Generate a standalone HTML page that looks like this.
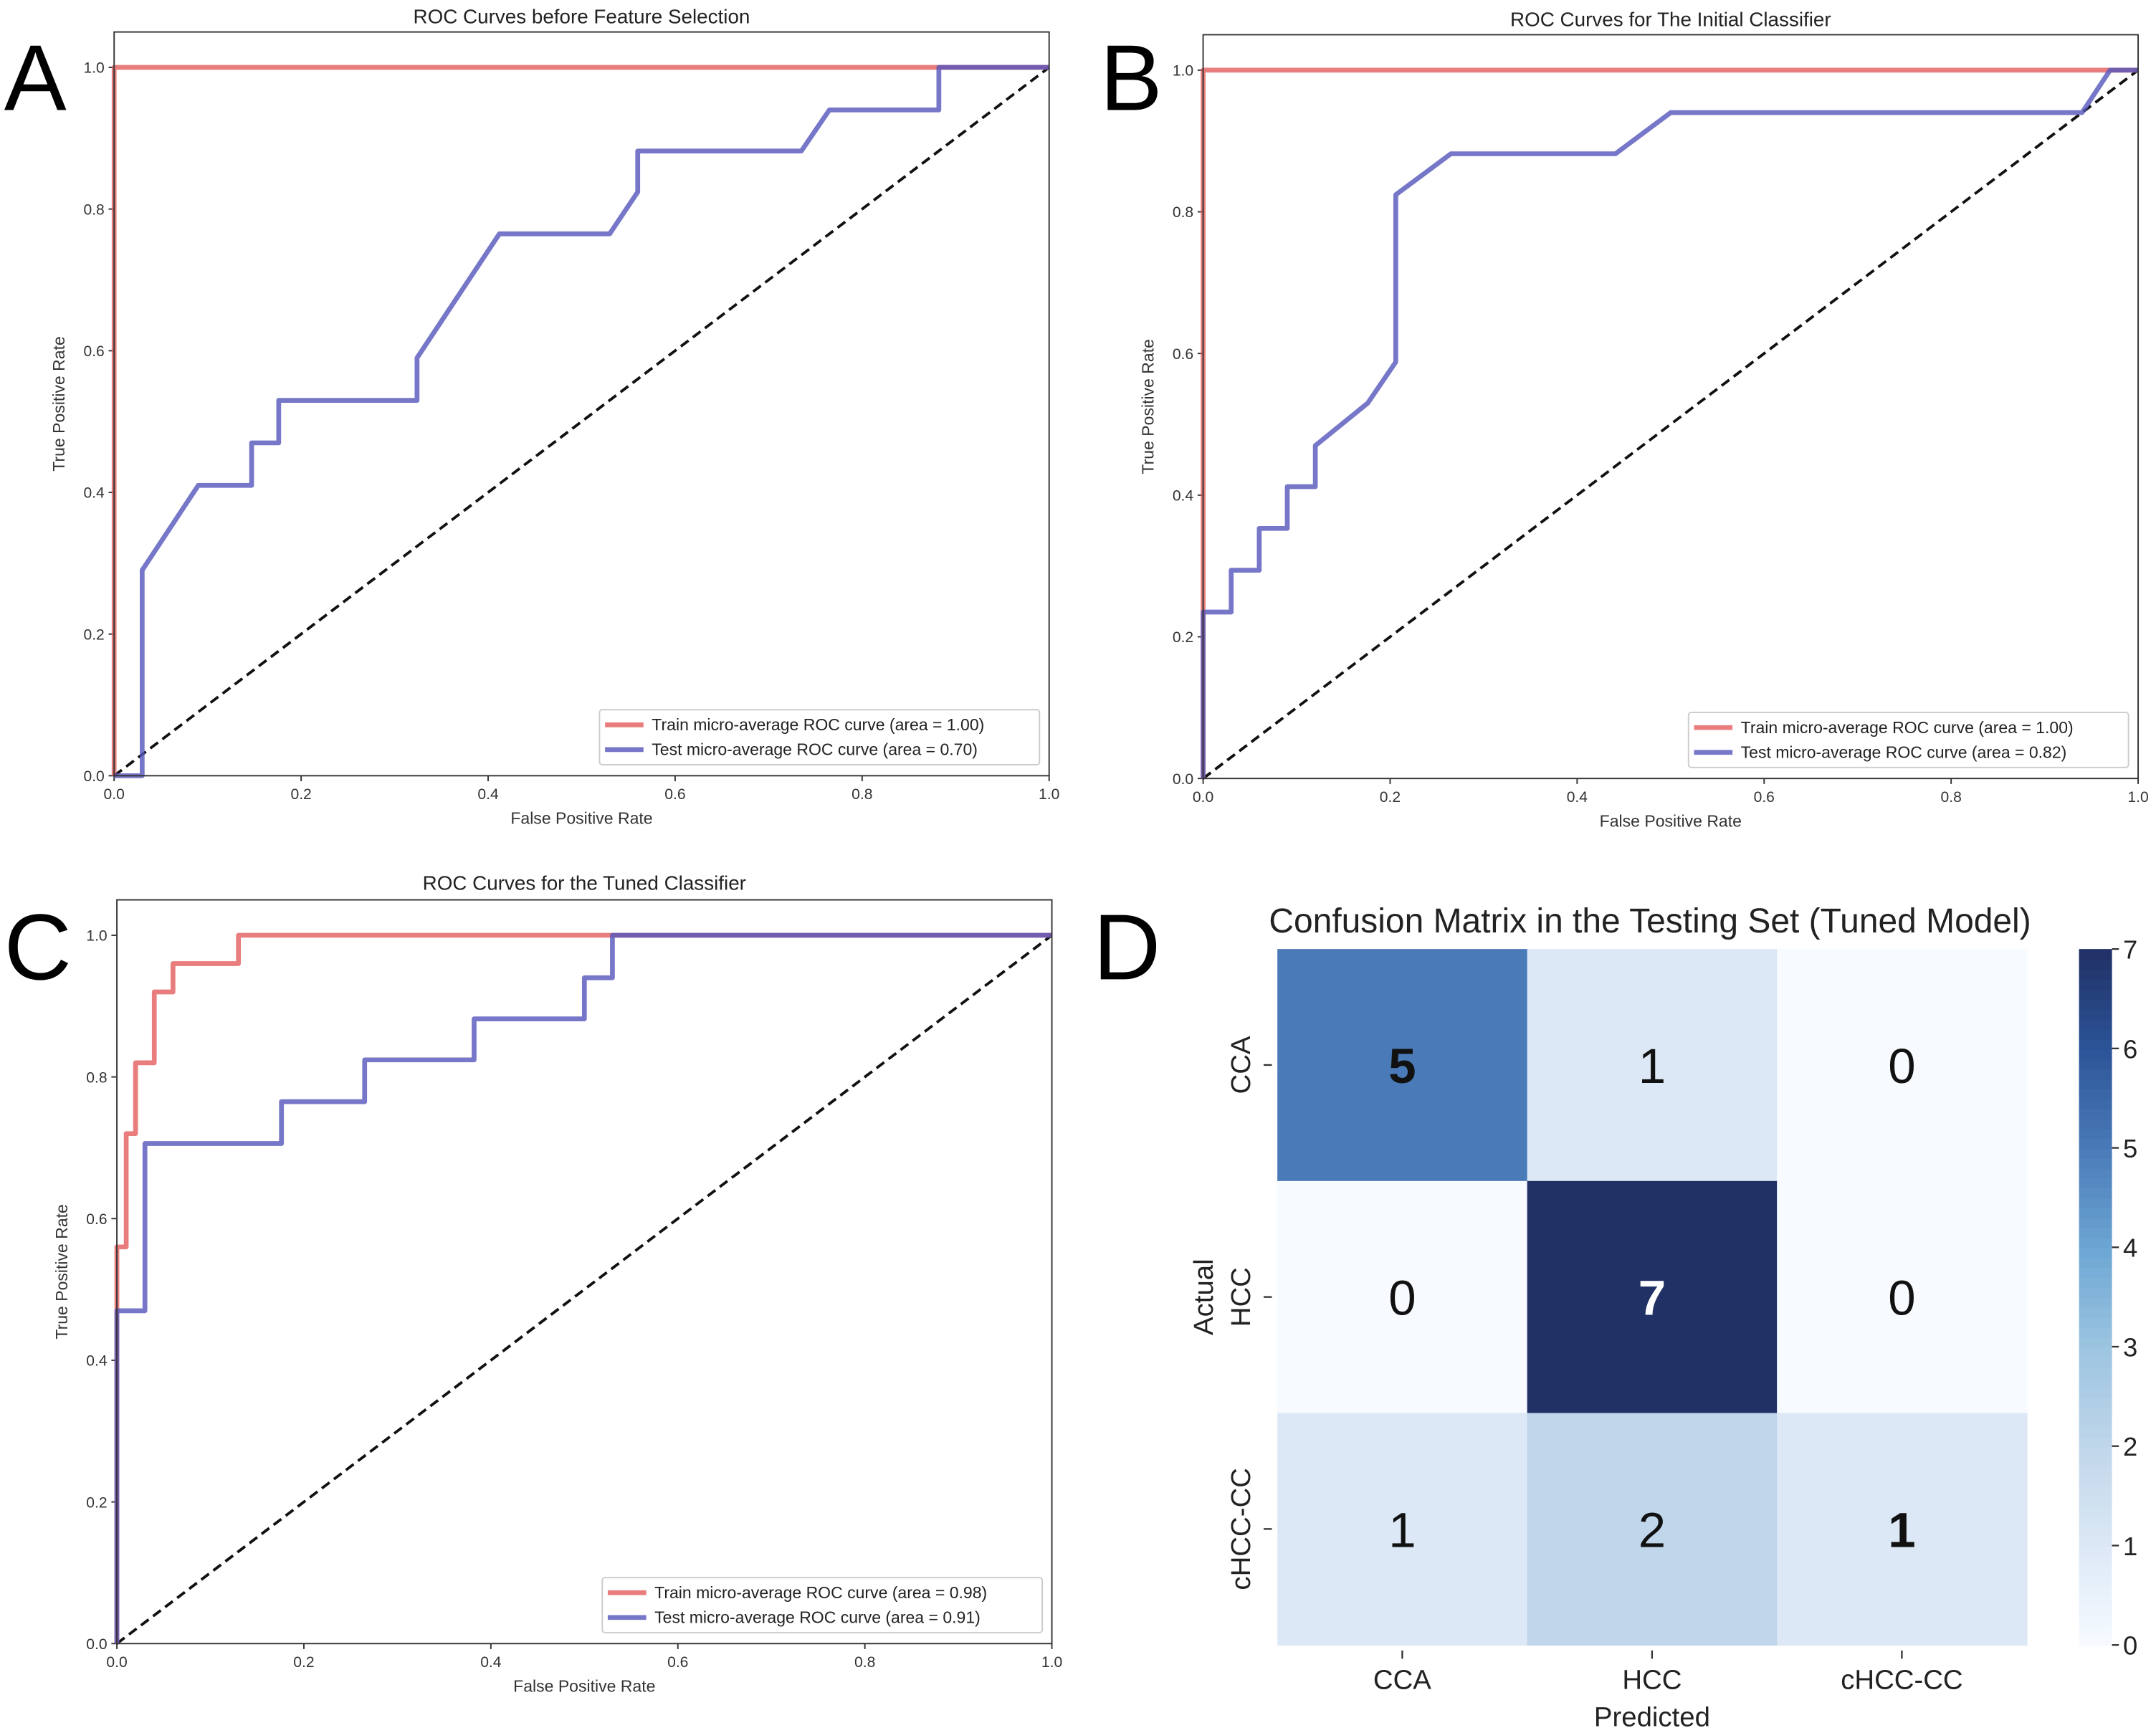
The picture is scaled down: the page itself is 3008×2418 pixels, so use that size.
<!DOCTYPE html>
<html><head><meta charset="utf-8"><style>
html,body{margin:0;padding:0;background:#fff;}
svg{display:block;font-family:"Liberation Sans","DejaVu Sans",sans-serif;}
</style></head><body>
<svg id="fig" width="3008" height="2418" viewBox="0 0 1568 1260" preserveAspectRatio="none" xmlns="http://www.w3.org/2000/svg"></svg>
<script>
// ---- data ----
const xTicks = [0, 0.2, 0.4, 0.6, 0.8, 1.0];
const yTicks = [0, 0.2, 0.4, 0.6, 0.8, 1.0];
const trainA_x = [0, 0, 1];
const trainA_y = [0, 1, 1];
const testA_x = [0, 0.03, 0.03, 0.09, 0.147, 0.147, 0.176, 0.176, 0.324, 0.324, 0.412, 0.53, 0.56, 0.56, 0.735, 0.765, 0.882, 0.882, 1];
const testA_y = [0, 0, 0.29, 0.41, 0.41, 0.47, 0.47, 0.53, 0.53, 0.59, 0.765, 0.765, 0.824, 0.882, 0.882, 0.94, 0.94, 1, 1];
const trainB_x = [0, 0, 1];
const trainB_y = [0, 1, 1];
const testB_x = [0, 0, 0.03, 0.03, 0.06, 0.06, 0.09, 0.09, 0.12, 0.12, 0.176, 0.206, 0.206, 0.265, 0.441, 0.5, 0.94, 0.97, 1];
const testB_y = [0, 0.235, 0.235, 0.294, 0.294, 0.353, 0.353, 0.412, 0.412, 0.47, 0.53, 0.588, 0.824, 0.882, 0.882, 0.94, 0.94, 1, 1];
const trainC_x = [0, 0, 0.01, 0.01, 0.02, 0.02, 0.04, 0.04, 0.06, 0.06, 0.13, 0.13, 1];
const trainC_y = [0, 0.56, 0.56, 0.72, 0.72, 0.82, 0.82, 0.92, 0.92, 0.96, 0.96, 1, 1];
const testC_x = [0, 0, 0.03, 0.03, 0.176, 0.176, 0.265, 0.265, 0.382, 0.382, 0.5, 0.5, 0.53, 0.53, 1];
const testC_y = [0, 0.47, 0.47, 0.706, 0.706, 0.765, 0.765, 0.824, 0.824, 0.882, 0.882, 0.94, 0.94, 1, 1];
const cmLabels = ["CCA", "HCC", "cHCC-CC"];
const cmValues = [[5,1,0],[0,7,0],[1,2,1]];
const cbTicks = [0,1,2,3,4,5,6,7];

const svg = document.getElementById('fig');
const NS = 'http://www.w3.org/2000/svg';
function el(tag, attrs, text){
  const e = document.createElementNS(NS, tag);
  for (const k in attrs) e.setAttribute(k, attrs[k]);
  if (text !== undefined) e.textContent = text;
  svg.appendChild(e);
  return e;
}

function rocPanel(p){
  const sx = v => p.x0 + v*(p.x1-p.x0);
  const sy = v => p.y0 - v*(p.y0-p.y1);
  const top = sy(1.05);
  let t = el('text',{x:(p.x0+p.x1)/2,y:p.titleY,'font-size':14.5,'text-anchor':'middle',fill:'#222'},p.title);
  
  
  let L = el('text',{x:p.letterX,y:p.letterY,'font-size':68,fill:'#000'},p.letter);
  
  
  // ticks
  xTicks.forEach(v=>{
    el('line',{x1:sx(v),x2:sx(v),y1:p.y0,y2:p.y0+4,stroke:'#333','stroke-width':1});
    const tx = el('text',{x:sx(v),y:p.y0+17,'font-size':11,'text-anchor':'middle',fill:'#333'},v.toFixed(1));
    
    
  });
  yTicks.forEach(v=>{
    el('line',{x1:p.x0-4,x2:p.x0,y1:sy(v),y2:sy(v),stroke:'#333','stroke-width':1});
    const ty = el('text',{x:p.x0-7,y:sy(v)+4,'font-size':11,'text-anchor':'end',fill:'#333'},v.toFixed(1));
    
    
  });
  let xl = el('text',{x:(p.x0+p.x1)/2,y:p.y0+35,'font-size':12,'text-anchor':'middle',fill:'#333'},'False Positive Rate');
  
  
  const my = (p.y0+top)/2;
  let yl = el('text',{x:p.x0-36,y:my,'font-size':12,'text-anchor':'middle',fill:'#333',transform:`rotate(-90 ${p.x0-36} ${my})`},'True Positive Rate');
  
  
  // diagonal
  let d = el('line',{x1:sx(0),y1:sy(0),x2:sx(1),y2:sy(1),stroke:'#111','stroke-width':2,'stroke-dasharray':'7,4'});
  
  
  const pts = (xs,ys)=>xs.map((x,i)=>sx(x).toFixed(1)+','+sy(ys[i]).toFixed(1)).join(' ');
  let tr = el('polyline',{points:pts(p.trX,p.trY),fill:'none',stroke:'#e35d5d','stroke-opacity':0.8,'stroke-width':3.5,'stroke-linejoin':'round'});
  
  
  let te = el('polyline',{points:pts(p.teX,p.teY),fill:'none',stroke:'#5555bb','stroke-opacity':0.8,'stroke-width':3.5,'stroke-linejoin':'round'});
  
  
  // frame
  let fr = el('rect',{x:p.x0,y:top,width:p.x1-p.x0,height:p.y0-top,fill:'none',stroke:'#333','stroke-width':1});
  
  
  // legend
  const lx = p.x1-327, ly = p.y0-48;
  let lg = el('rect',{x:lx,y:ly,width:320,height:40,fill:'#fff',stroke:'#ccc','stroke-width':1,rx:2});
  
  
  el('line',{x1:lx+4,x2:lx+32,y1:ly+11,y2:ly+11,stroke:'#e35d5d','stroke-opacity':0.8,'stroke-width':3.5});
  let l1 = el('text',{x:lx+38,y:ly+15,'font-size':12,fill:'#222'},'Train micro-average ROC curve (area = '+p.trArea+')');
  
  
  el('line',{x1:lx+4,x2:lx+32,y1:ly+29,y2:ly+29,stroke:'#5555bb','stroke-opacity':0.8,'stroke-width':3.5});
  let l2 = el('text',{x:lx+38,y:ly+33,'font-size':12,fill:'#222'},'Test micro-average ROC curve (area = '+p.teArea+')');
  
  
}

rocPanel({id:'panel-a',letter:'A',letterX:3,letterY:80,title:'ROC Curves before Feature Selection',titleY:17,x0:83,x1:763,y0:564,y1:49,trX:trainA_x,trY:trainA_y,teX:testA_x,teY:testA_y,trArea:'1.00',teArea:'0.70'});
rocPanel({id:'panel-b',letter:'B',letterX:800,letterY:80,title:'ROC Curves for The Initial Classifier',titleY:19,x0:875,x1:1555,y0:566,y1:51,trX:trainB_x,trY:trainB_y,teX:testB_x,teY:testB_y,trArea:'1.00',teArea:'0.82'});
rocPanel({id:'panel-c',letter:'C',letterX:3,letterY:712,title:'ROC Curves for the Tuned Classifier',titleY:647,x0:85,x1:765,y0:1195,y1:680,trX:trainC_x,trY:trainC_y,teX:testC_x,teY:testC_y,trArea:'0.98',teArea:'0.91'});

// ---- confusion matrix ----
const stops = [[0,[247,251,255]],[1,[220,232,245]],[2,[192,214,234]],[3,[156,196,225]],[4,[108,166,211]],[5,[74,122,184]],[6,[44,84,152]],[7,[33,48,101]]];
function cmap(v){
  for(let i=0;i<stops.length-1;i++){
    const [a,ca]=stops[i],[b,cb]=stops[i+1];
    if(v<=b){const t=(v-a)/(b-a);return 'rgb('+ca.map((c,j)=>Math.round(c+(cb[j]-c)*t)).join(',')+')';}
  }
  return 'rgb(33,48,101)';
}
const hx0=929, hx1=1474, hy0=690, hy1=1196;
const cw=(hx1-hx0)/3, ch=(hy1-hy0)/3;
let dl = el('text',{x:795,y:712,'font-size':68,fill:'#000'},'D');


let dt = el('text',{x:1200,y:678,'font-size':25,'text-anchor':'middle',fill:'#222'},'Confusion Matrix in the Testing Set (Tuned Model)');


cmValues.forEach((row,r)=>row.forEach((v,c)=>{
  const cell = el('rect',{x:hx0+c*cw,y:hy0+r*ch,width:cw+0.5,height:ch+0.5,fill:cmap(v)});
  
  
  const tx = el('text',{x:hx0+(c+0.5)*cw,y:hy0+(r+0.5)*ch+13,'font-size':36,'text-anchor':'middle',fill:v>=6?'#fff':'#111','font-weight':(r===c)?'bold':'normal'},String(v));
  
  
}));
cmLabels.forEach((lab,i)=>{
  const cx = hx0+(i+0.5)*cw;
  el('line',{x1:cx,x2:cx,y1:hy1+4,y2:hy1+10,stroke:'#333','stroke-width':1.2});
  const t = el('text',{x:cx,y:hy1+32,'font-size':20,'text-anchor':'middle',fill:'#222'},lab);
  
  
  const cy = hy0+(i+0.5)*ch;
  el('line',{x1:hx0-10,x2:hx0-4,y1:cy,y2:cy,stroke:'#333','stroke-width':1.2});
  const ty = el('text',{x:hx0-20,y:cy,'font-size':20,'text-anchor':'middle',fill:'#222',transform:`rotate(-90 ${hx0-20} ${cy})`},lab);
  
  
});
let px = el('text',{x:(hx0+hx1)/2,y:1255,'font-size':20,'text-anchor':'middle',fill:'#222'},'Predicted');


let ay = el('text',{x:882,y:943,'font-size':20,'text-anchor':'middle',fill:'#222',transform:'rotate(-90 882 943)'},'Actual');


// colorbar
const cbx=1512, cbw=24;
const cbs = v => hy1 - v/7*(hy1-hy0);
const N=70;
for(let i=0;i<N;i++){
  const v0=i*7/N, v1=(i+1)*7/N;
  el('rect',{x:cbx,y:cbs(v1),width:cbw,height:cbs(v0)-cbs(v1)+0.6,fill:cmap((v0+v1)/2)});
}
let cbf = el('rect',{x:cbx,y:hy0,width:cbw,height:hy1-hy0,fill:'none',stroke:'none'});


cbTicks.forEach(v=>{
  el('line',{x1:cbx+cbw,x2:cbx+cbw+5,y1:cbs(v),y2:cbs(v),stroke:'#333','stroke-width':1.2});
  const t = el('text',{x:cbx+cbw+8,y:cbs(v)+7,'font-size':19,fill:'#222'},String(v));
  
  
});
</script>
</body></html>
